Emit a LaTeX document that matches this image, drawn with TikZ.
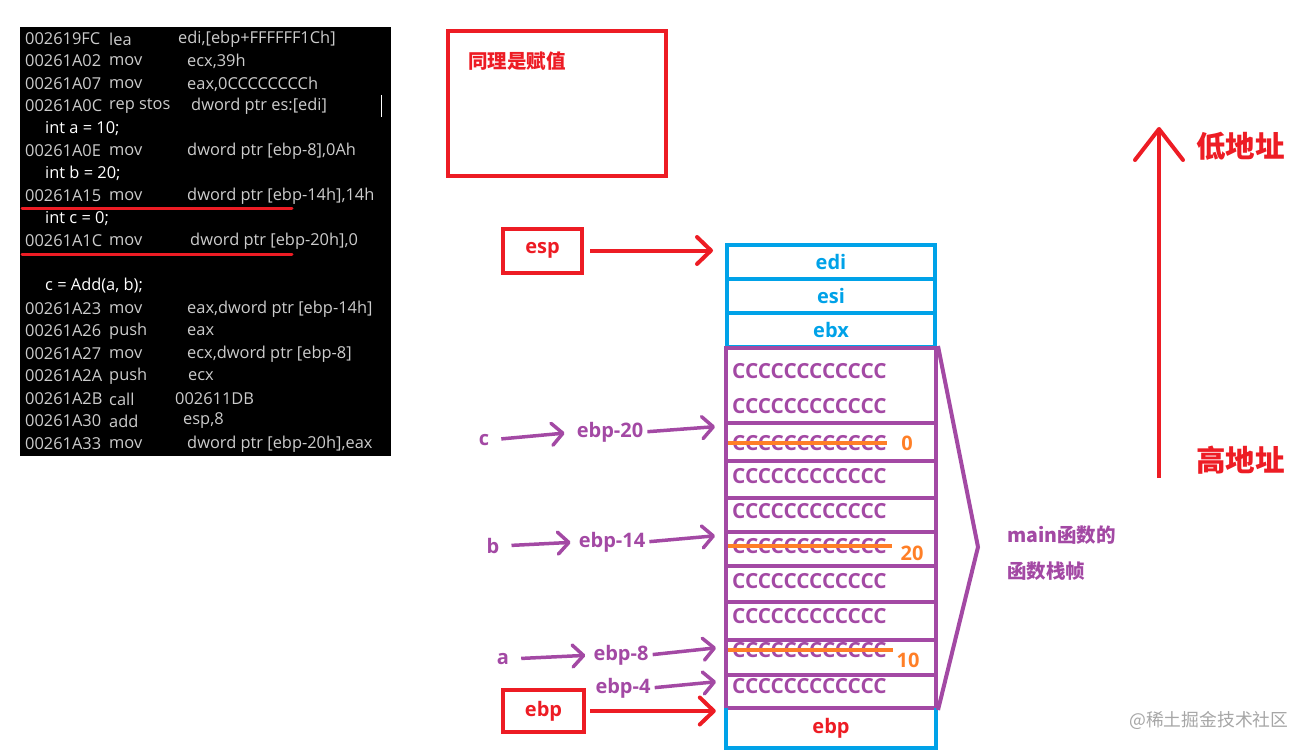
\documentclass[tikz,border=0pt]{standalone}
\usepackage{fontspec}
\setmainfont{Open Sans}
\newfontfamily\cjk{Noto Sans CJK SC}
\usetikzlibrary{arrows.meta,positioning}
\definecolor{pred}{RGB}{237,28,36}
\definecolor{pblue}{RGB}{0,162,232}
\definecolor{ppurple}{RGB}{163,73,164}
\definecolor{porange}{RGB}{255,127,39}
\definecolor{codegray}{RGB}{204,204,204}

\begin{document}
\begin{tikzpicture}[x=1pt, y=-1pt,
    code/.style={anchor=west, inner sep=0pt, text=codegray, font=\fontsize{16.4}{18}\selectfont},
    srcline/.style={code, text=white},
    regbox/.style={draw=pblue, line width=4pt, minimum width=208pt, minimum height=34pt,
        inner sep=0pt, text=pblue, font=\fontsize{20}{20}\selectfont\bfseries},
    slot/.style={draw=ppurple, line width=4pt, minimum width=210pt, inner sep=0pt},
    filler/.style={anchor=west, inner sep=0pt, text=ppurple, font=\fontsize{20.8}{20}\selectfont\bfseries},
    ptr/.style={draw=pred, line width=4pt, minimum width=79pt, minimum height=44pt,
        inner sep=0pt, text=pred, font=\fontsize{20}{20}\selectfont\bfseries},
    offs/.style={inner sep=0pt, text=ppurple, font=\fontsize{20}{20}\selectfont\bfseries},
    newval/.style={inner sep=0pt, text=porange, font=\fontsize{20}{20}\selectfont\bfseries},
    cjklabel/.style={anchor=west, inner sep=0pt, font=\cjk\bfseries\fontsize{29.5}{30}\selectfont},
    rarr/.style={draw=pred, line width=4pt, -{Straight Barb[length=14pt, width=27pt, round]}},
    parr/.style={draw=ppurple, line width=3.5pt, -{Straight Barb[length=11pt, width=22pt, round]}},
    strike/.style={draw=porange, line width=4pt},
]
    \useasboundingbox (0,0) rectangle (1310,752);

    % disassembly window
    \fill[black] (20,27) rectangle (391,456);
    \foreach \ly/\addr/\mn/\ox/\opd [count=\i] in {
        39/002619FC/lea/178/{edi,[ebp+FFFFFF1Ch]},
        61/00261A02/mov/187/{ecx,39h},
        84/00261A07/mov/187/{eax,0CCCCCCCCh},
        106/00261A0C/rep stos/191/{dword ptr es:[edi]},
        151/00261A0E/mov/187/{dword ptr [ebp-8],0Ah},
        196/00261A15/mov/187/{dword ptr [ebp-14h],14h},
        241/00261A1C/mov/190/{dword ptr [ebp-20h],0},
        309/00261A23/mov/187/{eax,dword ptr [ebp-14h]},
        331/00261A26/push/187/eax,
        354/00261A27/mov/187/{ecx,dword ptr [ebp-8]},
        376/00261A2A/push/188/ecx,
        399/00261A2B/call/175/002611DB,
        421/00261A30/add/183/{esp,8},
        444/00261A33/mov/187/{dword ptr [ebp-20h],eax}} {
        \node[code] (adr\i) at (25,\ly) {\addr};
        \node[code] (mn\i) at (109,\ly) {\mn};
        \node[code] (opd\i) at (\ox,\ly) {\opd};
    }
    \node[srcline] (srca) at (45,129) {int a = 10;};
    \node[srcline] (srcb) at (45,173) {int b = 20;};
    \node[srcline] (srcc) at (45,219) {int c = 0;};
    \node[srcline] (srcadd) at (45,286) {c = Add(a, b);};
    \draw[white, line width=1pt] (381,95) -- (381,117);
    \draw[pred, line width=3pt, line cap=round] (22,208) -- (292,208);
    \draw[pred, line width=3pt, line cap=round] (22,254) -- (292,254);

    % note
    \node[draw=pred, line width=4pt, minimum width=218pt, minimum height=145pt] (notebox) at (557,103.5) {};
    \node[anchor=west, inner sep=0pt, text=pred, font=\cjk\bfseries\fontsize{19.5}{20}\selectfont]
        (notetext) at (468,61) {同理是赋值};

    % saved registers
    \node[regbox] (edi) at (831,262) {edi};
    \node[regbox] (esi) at (831,296) {esi};
    \node[regbox] (ebx) at (831,330) {ebx};

    % main's frame
    \foreach \nm/\cy/\h in {r1/385.5/75, r2/442/38, r3/479.5/37, r4/515/34, r5/549/34,
                            r6/584/36, r7/621/38, r8/657.5/35, r9/691.5/33}
        \node[slot, minimum height=\h pt] (\nm) at (831,\cy) {};
    \foreach \nm/\cy in {c1a/371, c1b/406, c2/443, c3/476, c4/511, c5/546,
                         c6/581, c7/616, c8/650, c9/686}
        \node[filler] (\nm) at (732,\cy) {CCCCCCCCCCCC};
    \draw[strike] ([xshift=-4pt]c2.west) -- (c2.east);
    \draw[strike] ([xshift=-4pt]c5.west) -- ([xshift=5pt]c5.east);
    \draw[strike] ([xshift=-4pt]c8.west) -- ([xshift=6pt]c8.east);
    \node[newval] (v0) at (907,443) {0};
    \node[newval] (v20) at (912,553) {20};
    \node[newval] (v10) at (908,660) {10};

    \node[inner sep=0pt, minimum width=210pt, minimum height=40pt, text=pred,
        font=\fontsize{20}{20}\selectfont\bfseries] (ebpslot) at (831,728) {ebp};
    \draw[pblue, line width=4pt] (ebpslot.north west) -- (ebpslot.south west)
        -- (ebpslot.south east) -- (ebpslot.north east);

    \coordinate (frametip) at (978,547);
    \draw[ppurple, line width=4pt] (r1.north east) -- (frametip) -- (r9.south east);
    \node[anchor=west, align=left, inner sep=0pt, text=ppurple,
        font=\cjk\bfseries\fontsize{19.5}{36}\selectfont] (framelbl) at (1007,553) {main函数的\\函数栈帧};

    % esp / ebp
    \node[ptr] (esp) at (542.5,250.5) {\raisebox{-2pt}{esp}};
    \node[ptr, minimum width=81pt, minimum height=42pt] (ebp) at (543.5,711) {\raisebox{-2pt}{ebp}};
    \draw[rarr, shorten <=6pt, shorten >=12pt] (esp.east) -- (esp.east -| edi.west);
    \draw[rarr, shorten <=4pt, shorten >=10pt] (ebp.east) -- (ebp.east -| ebpslot.west);

    % locals
    \node[offs] (vc) at (484,440) {c};
    \node[offs] (vb) at (493,546) {b};
    \node[offs] (va) at (503,659) {a};
    \node[offs] (o20) at (610,432) {ebp-20};
    \node[offs] (o14) at (612,542) {ebp-14};
    \node[offs] (o8) at (621,655) {ebp-8};
    \node[offs] (o4) at (623,688) {ebp-4};
    \draw[parr, shorten <=12pt, shorten >=12pt] (vc.east) -- (o20.west);
    \draw[parr, shorten <=12pt, shorten >=8pt] (vb.east) -- (o14.west);
    \draw[parr, shorten <=12pt, shorten >=8pt] (va.east) -- (o8.west);
    \draw[parr, shorten <=4pt, shorten >=9pt] (o20.east) -- ([yshift=-5pt]r2.north west);
    \draw[parr, shorten <=4pt, shorten >=9pt] (o14.east) -- ([yshift=-5pt]r5.north west);
    \draw[parr, shorten <=4pt, shorten >=8pt] (o8.east) -- ([yshift=-9pt]r8.north west);
    \draw[parr, shorten <=4pt, shorten >=8pt] (o4.east) -- ([yshift=-8pt]r9.north west);

    % address direction
    \node[cjklabel, text=pred] (lowaddr) at (1196,146) {低地址};
    \node[cjklabel, text=pred] (highaddr) at (1196,460) {高地址};
    \coordinate (upfoot) at (1159,478);
    \coordinate (uptip) at (1159,127);
    \draw[pred, line width=4pt, -{Straight Barb[length=31pt, width=48pt, round]}] (upfoot) -- (uptip);

    \node[anchor=west, inner sep=0pt, text=black!35, font=\cjk\fontsize{17.8}{18}\selectfont]
        (mark) at (1129,720) {@稀土掘金技术社区};
\end{tikzpicture}
\end{document}
